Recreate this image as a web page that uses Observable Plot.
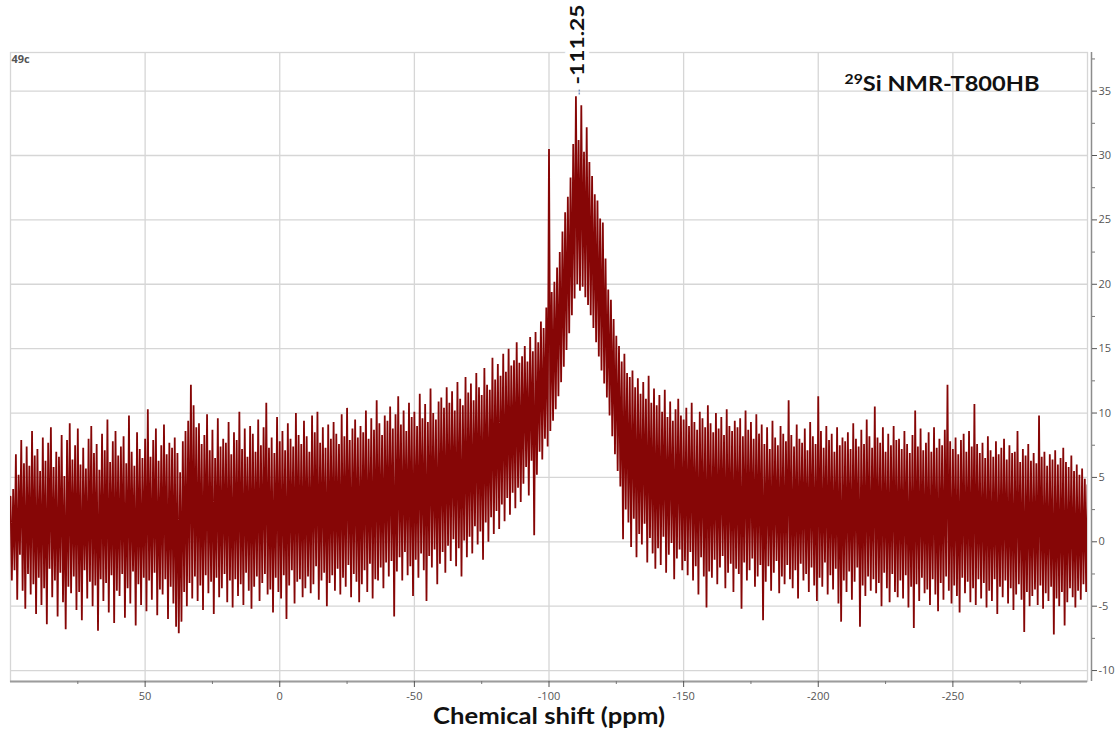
<!DOCTYPE html>
<html><head><meta charset="utf-8">
<script src="https://cdn.jsdelivr.net/npm/d3@7"></script>
<script src="https://cdn.jsdelivr.net/npm/@observablehq/plot@0.6"></script>
<style>body{margin:0;background:#fff} svg{display:block}</style>
</head><body><div id="chart"></div>
<script>
// Spectrum sampled every 0.5 ppm from 100 ppm down to -300 ppm
const ppmStart = 100;
const ppmStep = -0.5;
const intensity = [
3.5,-3.0,4.1,-2.2,6.8,-4.5,5.2,-1.0,7.9,-3.8,6.1,-5.2,7.4,-2.5,5.9,-4.1,8.6,-3.3,6.7,-5.6,
7.2,-2.8,5.5,-4.9,8.1,-3.6,6.3,-6.4,7.7,-2.1,8.9,-4.3,5.8,-3.0,7.0,-5.8,6.6,-2.4,8.3,-4.7,
5.1,-6.8,7.9,-3.5,9.2,-4.0,6.4,-2.7,7.5,-5.3,8.8,-3.9,6.0,-6.1,7.3,-2.2,5.7,-4.4,8.0,-3.1,
9.0,-5.0,6.9,-3.4,7.6,-6.9,5.6,-2.9,8.4,-4.6,7.1,-3.2,9.5,-5.5,6.2,-2.6,7.8,-6.3,8.6,-3.8,
6.7,-4.2,7.4,-2.5,8.2,-5.9,6.1,-3.6,9.8,-4.8,7.0,-2.3,5.9,-6.5,8.5,-3.3,7.2,-4.9,6.5,-2.8,
8.0,-5.4,10.3,-3.0,6.6,-4.5,7.9,-2.4,8.8,-5.7,6.3,-3.7,7.5,-4.1,9.1,-2.9,6.8,-6.0,7.7,-3.5,
7.3,-4.8,8.1,-6.6,6.9,-7.1,5.4,-6.2,7.8,-3.9,8.6,-5.0,9.4,-3.2,12.2,-4.4,10.6,-2.7,8.9,-4.6,
9.2,-3.4,7.6,-5.3,8.3,-2.6,9.9,-4.0,7.1,-3.1,8.7,-5.6,6.5,-2.8,9.6,-4.3,7.4,-3.6,8.0,-2.5,
7.7,-4.7,9.3,-3.0,6.8,-5.1,8.5,-2.9,7.9,-4.2,10.1,-3.3,7.2,-4.9,8.8,-2.4,6.6,-3.8,9.0,-5.2,
8.4,-3.5,7.0,-2.7,9.5,-4.6,7.5,-3.2,8.9,-2.5,10.8,-4.1,7.3,-3.7,8.1,-5.5,6.9,-2.8,9.7,-3.9,
7.8,-4.4,8.6,-2.6,7.1,-6.0,9.2,-3.4,8.0,-2.2,7.4,-4.8,10.0,-3.1,8.3,-2.9,7.6,-4.3,9.4,-3.6,
8.2,-2.7,7.0,-4.0,9.8,-3.3,8.5,-1.9,10.1,-4.5,7.7,-3.0,8.9,-2.4,7.3,-5.0,9.1,-3.2,8.0,-2.6,
9.3,-3.8,8.4,-2.1,7.6,-4.1,9.9,-2.8,8.2,-3.5,10.4,-1.8,7.9,-4.3,8.8,-2.5,9.5,-3.1,8.1,-4.7,
9.0,-3.3,8.5,-2.2,10.2,-3.9,8.0,-1.7,9.6,-4.4,8.7,-2.9,11.0,-3.0,9.2,-2.0,8.3,-3.6,9.8,-1.6,
9.4,-2.7,10.5,-1.5,8.8,-5.8,9.9,-2.3,11.3,-1.2,9.1,-3.0,10.2,-0.8,8.6,-2.6,10.8,-1.9,9.7,-4.2,
10.1,-1.4,9.0,-2.8,11.5,-0.9,9.6,-2.2,10.7,-4.6,9.3,-1.1,11.9,-2.0,10.0,-0.6,9.5,-3.3,10.9,-1.7,
11.2,-0.8,10.4,-2.4,12.0,-0.3,10.8,-1.5,11.7,0.2,10.2,-1.9,12.4,-0.5,11.1,-2.7,10.6,0.1,12.8,-1.2,
11.6,0.4,12.3,-0.9,11.0,1.2,13.1,-0.2,12.0,0.8,11.4,-1.4,13.5,1.5,12.2,0.0,11.8,1.9,14.3,0.6,
12.6,2.4,13.8,1.0,12.9,2.9,14.6,1.6,13.2,3.4,15.0,2.1,13.7,3.8,14.1,2.6,15.5,4.2,13.9,3.1,
14.4,4.5,15.2,5.8,14.0,3.6,15.9,6.3,14.8,0.5,16.3,5.2,15.5,7.0,17.1,6.4,16.6,8.0,18.2,7.4,
30.5,8.6,19.4,9.4,20.2,10.3,21.3,11.3,22.5,12.4,24.1,13.6,25.6,14.9,26.8,16.2,28.3,17.6,30.9,18.9,
34.6,20.0,31.2,19.5,33.9,19.8,30.3,19.0,32.2,18.4,29.5,17.6,28.4,16.6,27.0,15.5,26.5,14.4,25.1,13.3,
24.8,12.3,22.0,11.2,19.6,9.8,18.8,8.2,17.3,6.8,16.0,5.5,15.2,4.3,14.0,0.2,14.6,2.5,13.1,1.5,
12.8,-0.4,13.3,1.8,12.0,-1.2,12.7,0.6,11.5,-0.2,12.4,1.4,11.1,-1.6,12.9,0.3,10.8,-0.9,11.9,-2.1,
10.6,-0.5,11.4,-1.8,10.1,0.4,11.8,-2.4,9.7,-1.0,10.9,-0.1,9.4,-2.9,10.3,-1.3,11.1,-0.6,9.8,-2.2,
9.5,-1.5,10.4,-2.6,9.0,-0.8,10.8,-3.0,9.3,-1.9,8.7,-4.1,10.1,-1.2,9.6,-2.7,8.9,-5.1,10.6,-2.3,
9.2,-2.8,8.5,-1.4,10.0,-3.3,8.8,-2.0,9.7,-1.1,8.3,-3.6,10.3,-2.4,9.0,-1.7,8.6,-3.9,9.4,-2.1,
8.9,-2.5,9.6,-5.2,8.2,-1.6,10.2,-3.0,8.7,-2.2,9.3,-1.3,8.0,-3.5,9.9,-2.7,8.4,-1.8,9.1,-6.1,
7.6,-3.1,8.9,-1.9,7.2,-3.8,9.4,-2.4,8.1,-1.5,7.5,-4.0,9.0,-2.7,8.4,-3.3,7.8,-1.8,11.0,-2.9,
8.3,-3.6,7.4,-2.2,9.1,-4.4,8.0,-1.7,7.7,-3.0,8.8,-2.5,7.1,-3.9,9.3,-2.0,8.2,-3.4,7.6,-4.6,
11.3,-2.8,8.6,-3.5,7.3,-1.6,9.0,-4.1,7.9,-2.6,8.4,-3.7,7.0,-2.1,8.9,-4.8,7.5,-6.2,8.1,-3.0,
7.8,-3.9,8.5,-2.3,7.2,-4.5,9.2,-3.1,8.0,-2.0,7.4,-6.6,8.7,-3.4,7.6,-4.2,9.5,-2.7,8.2,-3.8,
7.3,-2.9,10.5,-4.0,8.1,-3.2,7.7,-5.0,8.9,-2.4,7.0,-3.6,8.4,-4.7,7.5,-2.5,9.0,-3.9,7.9,-4.3,
8.0,-3.0,7.2,-4.4,8.6,-2.6,7.6,-5.1,6.9,-3.5,8.3,-6.7,10.2,-3.3,7.4,-4.6,8.8,-2.8,7.1,-4.0,
7.7,-3.7,8.5,-4.9,7.0,-2.9,8.9,-4.1,7.3,-5.4,8.0,-3.2,7.5,-4.5,8.7,-2.7,12.2,-3.8,7.8,-4.8,
7.2,-3.4,8.1,-4.2,6.8,-5.5,7.9,-2.8,8.4,-4.0,7.0,-3.1,8.6,-4.7,7.4,-3.6,10.7,-4.9,7.6,-2.9,
6.9,-4.4,7.7,-3.2,6.5,-5.1,8.2,-3.8,7.1,-4.6,6.6,-2.9,7.8,-5.6,6.8,-3.5,7.3,-4.3,8.0,-3.0,
6.4,-4.8,7.5,-3.6,6.9,-5.3,7.0,-4.1,8.6,-3.3,6.2,-4.5,7.2,-7.0,6.7,-3.9,7.6,-5.0,6.3,-4.2,
6.9,-3.7,6.1,-4.9,9.8,-3.4,6.6,-5.2,7.0,-4.0,5.9,-4.6,6.8,-3.5,6.4,-7.2,7.1,-4.4,6.0,-5.0,
6.5,-3.9,7.3,-6.5,6.2,-4.7,5.8,-3.6,6.7,-4.3,5.5,-5.1,6.0,-3.8,5.2,-4.5,5.7,-3.3,4.9,-3.9,
4.4
];

const xTicks = [50, 0, -50, -100, -150, -200, -250];
const xMinorTicks = [75, 25, -25, -75, -125, -175, -225, -275];
const yTicks = [-10, -5, 0, 5, 10, 15, 20, 25, 30, 35];
const yMinorTicks = [-7.5, -2.5, 2.5, 7.5, 12.5, 17.5, 22.5, 27.5, 32.5, 37.5];
const xDomain = [100, -300];
const yDomain = [-10.85, 38];
const peakPositions = [-111.25];
const titleIsotope = "29";
const titleMain = "Si NMR-T800HB";
const sampleText = ["49c"];
const xAxisLabel = ["Chemical shift (ppm)"];

const spectrum = intensity.map((v, i) => ({ppm: ppmStart + ppmStep * i, value: v}));
const peakMax = d3.max(intensity);

const gridStyle = {stroke: "#d6d6d6", strokeOpacity: 1, strokeWidth: 1.3};
const labelFont = "Lato, 'Open Sans', sans-serif";

const chart = Plot.plot({
  width: 1120,
  height: 731,
  marginLeft: 10,
  marginRight: 33,
  marginTop: 52,
  marginBottom: 50,
  style: {fontFamily: "'Open Sans', sans-serif", background: "#ffffff", overflow: "visible"},
  x: {domain: xDomain, axis: null},
  y: {domain: yDomain, axis: null},
  marks: [
    Plot.gridX(xTicks, gridStyle),
    Plot.gridY(yTicks, gridStyle),
    Plot.frame({stroke: "#d6d6d6", strokeWidth: 1.3}),
    Plot.line(spectrum, {x: "ppm", y: "value", stroke: "#860606", strokeWidth: 1.8, strokeLinejoin: "miter", clip: true}),
    Plot.ruleY([yDomain[0]], {stroke: "#9c9c9c", strokeWidth: 2}),
    Plot.ruleX([xDomain[1]], {dx: 4, stroke: "#8c8c8c", strokeWidth: 1.5}),
    Plot.axisX(xTicks, {anchor: "bottom", tickSize: 6, tickPadding: 5, fontSize: 11, color: "#555", tickFormat: d => `${d}`, label: null}),
    Plot.axisX(xMinorTicks, {anchor: "bottom", tickSize: 3, color: "#777", tickFormat: () => "", label: null}),
    Plot.axisY(yTicks, {anchor: "right", dx: 4, tickSize: 5, tickPadding: 2, fontSize: 11, color: "#555", tickFormat: d => `${d}`, label: null}),
    Plot.axisY(yMinorTicks, {anchor: "right", dx: 4, tickSize: 3, color: "#777", tickFormat: () => "", label: null}),
    Plot.ruleX(peakPositions, {y1: peakMax + 0.1, y2: peakMax + 0.9, stroke: "#7f95c2", strokeWidth: 1.5, strokeDasharray: "2,1"}),
    Plot.text(peakPositions, {className: "peak-label", x: d => d, text: d => d.toFixed(2), frameAnchor: "top", dy: 32, dx: -1, rotate: -90, textAnchor: "start", lineAnchor: "middle", fontSize: 19, fontWeight: "bold", fontFamily: labelFont, fill: "#111", stroke: "white", strokeWidth: 10, paintOrder: "stroke"}),
    Plot.text([titleMain], {className: "chart-title", frameAnchor: "top-right", dx: -48, dy: 38.7, lineAnchor: "bottom", textAnchor: "end", fontSize: 21, fontWeight: "bold", fontFamily: labelFont, fill: "#111"}),
    Plot.text(sampleText, {frameAnchor: "top-left", dx: 1, dy: 3, lineAnchor: "top", textAnchor: "start", fontSize: 11, fontWeight: "bold", fill: "#555"}),
    Plot.text(xAxisLabel, {className: "x-label", frameAnchor: "bottom", dy: 42, lineAnchor: "bottom", fontSize: 22, fontWeight: "bold", fontFamily: labelFont, fill: "#111"})
  ]
});
// superscript isotope number in the title, and widen the bold labels as in the reference
const t = d3.select(chart).select("g.chart-title text");
if (!t.empty()) {
  t.text(null);
  t.append("tspan").attr("font-size", 14).attr("dy", -7).text(titleIsotope);
  t.append("tspan").attr("dy", 7).text(titleMain);
  t.attr("textLength", 195).attr("lengthAdjust", "spacingAndGlyphs");
}
d3.select(chart).select("g.x-label text").attr("textLength", 232).attr("lengthAdjust", "spacingAndGlyphs");
d3.select(chart).select("g.peak-label text").attr("textLength", 80).attr("lengthAdjust", "spacingAndGlyphs");
document.getElementById("chart").appendChild(chart);
</script>
</body></html>
